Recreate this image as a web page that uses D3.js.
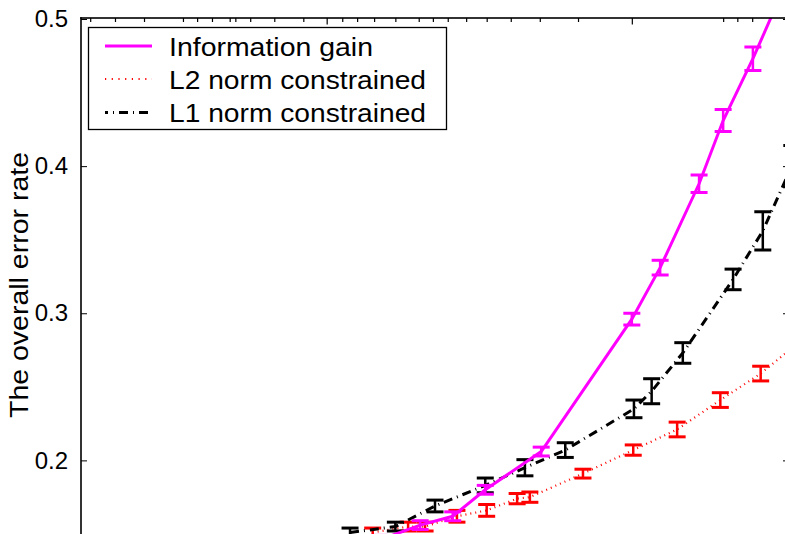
<!DOCTYPE html>
<html>
<head>
<meta charset="utf-8">
<script src="https://cdn.jsdelivr.net/npm/d3@7"></script>
<style>
  html, body { margin: 0; padding: 0; background: #fff; }
  svg { display: block; font-family: "Liberation Sans", Arial, Helvetica, sans-serif; }
</style>
</head>
<body>
<svg id="chart" width="785" height="534"></svg>
<script>
// ---- data ----
const seriesNames = ["Information gain", "L2 norm constrained", "L1 norm constrained"];
const seriesColors = ["#ff00ff", "#ff0000", "#000000"];

const infoX   = [42.2, 47.9, 52.5, 57.1, 65.0, 77.8, 81.8, 87.3, 90.7, 94.9, 100.1];
const infoY   = [0.146, 0.156, 0.162, 0.180, 0.206, 0.296, 0.331, 0.388, 0.431, 0.473, 0.530];
const infoErr = [0.003, 0.003, 0.003, 0.003, 0.003, 0.004, 0.005, 0.006, 0.0075, 0.008, 0.009];

const l2X   = [41.2, 46.2, 48.6, 53.1, 57.3, 61.6, 63.4, 70.9, 78.0, 84.2, 90.3, 96.0, 101.6];
const l2Y   = [0.151, 0.155, 0.155, 0.162, 0.166, 0.174, 0.175, 0.191, 0.207, 0.221, 0.241, 0.259, 0.281];
const l2Err = [0.003, 0.003, 0.003, 0.004, 0.004, 0.0035, 0.0035, 0.003, 0.0035, 0.005, 0.005, 0.005, 0.005];

const l1X   = [38.0, 44.4, 50.0, 57.1, 62.7, 68.4, 78.1, 80.6, 85.0, 92.1, 96.3, 100.4];
const l1Y   = [0.151, 0.155, 0.169, 0.183, 0.195, 0.207, 0.235, 0.247, 0.273, 0.323, 0.356, 0.400];
const l1Err = [0.003, 0.003, 0.004, 0.005, 0.0055, 0.005, 0.006, 0.0085, 0.007, 0.007, 0.013, 0.014];

const yTickValues = [0.2, 0.3, 0.4, 0.5];
const yTickLabels = ["0.2", "0.3", "0.4", "0.5"];
const topTickValues = [1.3, 4.8, 8.9, 14.4, 16.4, 18.5, 21.0, 21.8, 23.9, 27.3, 31.4, 34.7, 36.9, 39.0,
                       41.4, 44.4, 47.7, 49.7, 51.8, 54.4, 57.3, 60.7, 64.8, 70.2, 77.8, 90.7, 92.7, 94.8];
const topMajorTicks = [34.7, 77.8];
const yLabel = "The overall error rate";

(function () {
const svg = d3.select("#chart");
const mLeft = 81, mRight = 789, mTop = 18, mBottom = 607.5;

const x = d3.scaleLinear().domain([0, 100]).range([mLeft, mRight]);
const y = d3.scaleLinear().domain([0.1, 0.5]).range([mBottom, mTop + 1]);

svg.append("rect").attr("width", 785).attr("height", 534).attr("fill", "#fff");

svg.append("defs").append("clipPath").attr("id", "plotclip")
  .append("rect").attr("x", mLeft).attr("y", mTop).attr("width", mRight - mLeft).attr("height", mBottom - mTop);

const series = [
  { name: seriesNames[0], color: seriesColors[0], xs: infoX, ys: infoY, es: infoErr, width: 3, dash: null },
  { name: seriesNames[1], color: seriesColors[1], xs: l2X, ys: l2Y, es: l2Err, width: 2.2, dash: "1,4" },
  { name: seriesNames[2], color: seriesColors[2], xs: l1X, ys: l1Y, es: l1Err, width: 3, dash: "9,5,1,5" }
];

const plot = svg.append("g").attr("clip-path", "url(#plotclip)");
const line = d3.line().x(d => x(d.x)).y(d => y(d.y));
const capW = 8.5;

[1, 2, 0].forEach(i => {
  const s = series[i];
  const pts = s.xs.map((v, j) => ({ x: v, y: s.ys[j], e: s.es[j] }));
  const g = plot.append("g");
  g.append("path").datum(pts)
    .attr("d", line)
    .attr("fill", "none")
    .attr("stroke", s.color)
    .attr("stroke-width", s.width)
    .attr("stroke-dasharray", s.dash);
  const eb = g.selectAll("g.eb").data(pts).enter().append("g").attr("class", "eb");
  eb.append("line")
    .attr("x1", d => x(d.x)).attr("x2", d => x(d.x))
    .attr("y1", d => y(d.y - d.e)).attr("y2", d => y(d.y + d.e))
    .attr("stroke", s.color).attr("stroke-width", 2.5);
  eb.append("line")
    .attr("x1", d => x(d.x) - capW).attr("x2", d => x(d.x) + capW)
    .attr("y1", d => y(d.y - d.e)).attr("y2", d => y(d.y - d.e))
    .attr("stroke", s.color).attr("stroke-width", 3);
  eb.append("line")
    .attr("x1", d => x(d.x) - capW).attr("x2", d => x(d.x) + capW)
    .attr("y1", d => y(d.y + d.e)).attr("y2", d => y(d.y + d.e))
    .attr("stroke", s.color).attr("stroke-width", 3);
});

// ---- axes ----
const yAxisL = d3.axisLeft(y).tickValues(yTickValues).tickSize(-6).tickPadding(13)
  .tickFormat((d, i) => yTickLabels[i]);
const gL = svg.append("g").attr("transform", `translate(${mLeft},0)`).call(yAxisL);
gL.select(".domain").remove();
gL.selectAll(".tick line").attr("stroke", "#000").attr("stroke-width", 1);
gL.selectAll(".tick text").attr("font-size", 24).attr("fill", "#000")
  .attr("font-family", '"Liberation Sans", Arial, sans-serif');

const yAxisR = d3.axisRight(y).tickValues(yTickValues).tickSize(-6).tickFormat("");
const gR = svg.append("g").attr("transform", `translate(${mRight},0)`).call(yAxisR);
gR.select(".domain").remove();
gR.selectAll(".tick line").attr("stroke", "#000").attr("stroke-width", 1);

const xAxisT = d3.axisTop(x).tickValues(topTickValues).tickSizeInner(-3.5).tickSizeOuter(0).tickFormat("");
const gT = svg.append("g").attr("class", "topaxis").attr("transform", `translate(0,${mTop})`).call(xAxisT);
gT.select(".domain").remove();
gT.selectAll(".tick line")
  .attr("y1", 0)
  .attr("y2", d => topMajorTicks.includes(d) ? 6.5 : 4)
  .attr("stroke", "#000").attr("stroke-width", 1.2);

// frame (left + top) as filled rects
svg.append("rect").attr("x", mLeft - 0.8).attr("y", mTop - 0.8)
  .attr("width", 1.6).attr("height", 534 - mTop + 1).attr("fill", "#000");
svg.append("rect").attr("x", mLeft - 0.8).attr("y", mTop - 0.8)
  .attr("width", 785 - mLeft + 1).attr("height", 1.6).attr("fill", "#000");

// y label
svg.append("text")
  .attr("transform", "translate(28,285) rotate(-90)")
  .attr("text-anchor", "middle")
  .attr("font-size", 26.5)
  .attr("textLength", 266)
  .attr("lengthAdjust", "spacingAndGlyphs")
  .attr("fill", "#000")
  .text(yLabel);

// ---- legend ----
const lg = svg.append("g");
lg.append("rect").attr("x", 88.5).attr("y", 27.5).attr("width", 358).attr("height", 102)
  .attr("fill", "#fff").attr("stroke", "#000").attr("stroke-width", 1.3);
const rowY = [46, 79, 112.5];
const textLens = [204, 257, 257];
const legendDash = [null, "1.2,5.5", "9,5,1,5"];
series.forEach((s, i) => {
  lg.append("line")
    .attr("x1", 105).attr("x2", 152).attr("y1", rowY[i]).attr("y2", rowY[i])
    .attr("stroke", s.color).attr("stroke-width", s.width)
    .attr("stroke-dasharray", legendDash[i])
    .attr("stroke-dashoffset", i === 2 ? 6 : 0);
  lg.append("text")
    .attr("x", 169).attr("y", rowY[i] + 9.5)
    .attr("font-size", 26)
    .attr("textLength", textLens[i])
    .attr("lengthAdjust", "spacingAndGlyphs")
    .attr("fill", "#000")
    .text(s.name);
});
})();
</script>
</body>
</html>
